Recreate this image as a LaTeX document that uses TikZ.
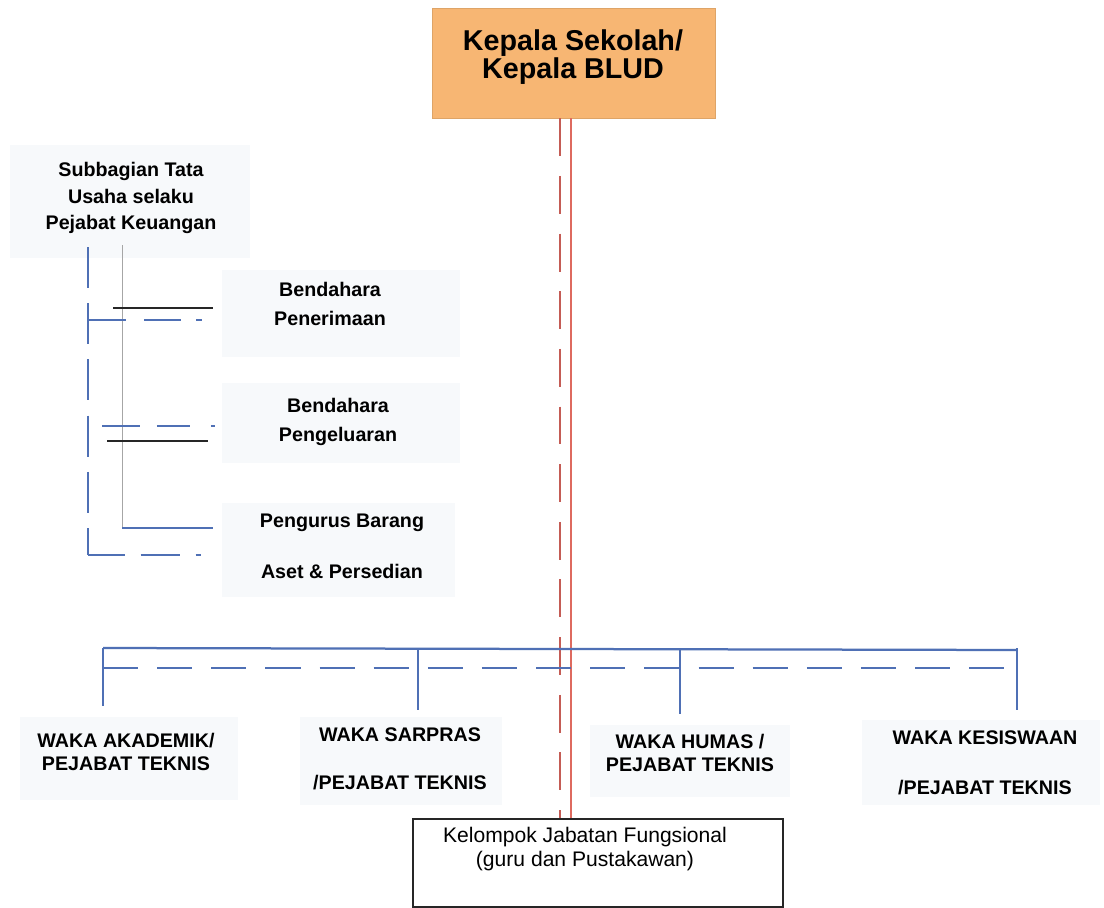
\documentclass[tikz,border=0pt]{standalone}
\usepackage{fontspec}
\setmainfont{Liberation Sans}
\usetikzlibrary{positioning}

\definecolor{kepalaorange}{HTML}{F7B673}
\definecolor{lineblue}{HTML}{4F70B5}
\definecolor{linered}{HTML}{DE6A5F}
\definecolor{dashred}{HTML}{C45C55}
\definecolor{faintbg}{HTML}{F7F9FB}

\tikzset{
  lbl/.style={font=\fontsize{14}{19}\selectfont\bfseries, align=center, inner sep=0pt},
  wakalbl/.style={font=\fontsize{14}{16.5}\selectfont\bfseries, align=center, inner sep=0pt},
  bgbox/.style={fill=faintbg, draw=none},
  blueline/.style={draw=lineblue, line width=1.6pt},
  bluedash/.style={blueline, dash pattern=on 25pt off 13.5pt},
  blackline/.style={draw=black!85, line width=1.2pt},
  thinline/.style={draw=black!35, line width=0.6pt},
}

\begin{document}
\begin{tikzpicture}[x=0.025cm, y=-0.025cm]
    \useasboundingbox[fill=white] (0,0) rectangle (1104,907);

    % faint backgrounds
    \fill[faintbg] (10,145) rectangle (250,258);
    \fill[faintbg] (222,270) rectangle (460,357);
    \fill[faintbg] (222,383) rectangle (460,463);
    \fill[faintbg] (222,503) rectangle (455,597);
    \fill[faintbg] (20,717) rectangle (238,800);
    \fill[faintbg] (300,717) rectangle (502,805);
    \fill[faintbg] (590,725) rectangle (790,797);
    \fill[faintbg] (862,720) rectangle (1100,805);

    % top and bottom boxes
    \node[fill=kepalaorange, draw=kepalaorange!90!black, line width=0.3pt,
          minimum width=7.075cm, minimum height=2.75cm, inner sep=0pt] (kepala) at (573.5,63) {};
    \node[font=\fontsize{20.4}{20.5}\selectfont\bfseries, align=center, inner sep=0pt]
          (kepalatext) at (573,57) {Kepala Sekolah/\\Kepala BLUD};
    \node[draw=black!85, line width=1.1pt, fill=white,
          minimum width=9.25cm, minimum height=2.2cm, inner sep=0pt] (kjf) at (598,863) {};
    \node[font=\fontsize{15}{17.5}\selectfont, align=center, inner sep=0pt]
          (kjftext) at (585,849) {Kelompok Jabatan Fungsional\\(guru dan Pustakawan)};

    % red lines
    \draw[draw=linered, line width=1.8pt] (571,0 |- kepala.south) -- (571,0 |- kjf.north);
    \draw[draw=dashred, line width=1.6pt, dash pattern=on 27pt off 14pt]
          (560,0 |- kepala.south) -- (560,0 |- kjf.north);

    % left labels
    \node[lbl, font=\fontsize{14}{18.9}\selectfont\bfseries] (subbag) at (131,198)
          {Subbagian Tata\\Usaha selaku\\Pejabat Keuangan};
    \node[lbl, font=\fontsize{14}{20}\selectfont\bfseries] (bpen) at (330,304) {Bendahara\\Penerimaan};
    \node[lbl, font=\fontsize{14}{20.5}\selectfont\bfseries] (bpeng) at (338,422) {Bendahara\\Pengeluaran};
    \node[lbl] (pbarang) at (342,523) {Pengurus Barang};
    \node[lbl] (aset) at (342,571) {Aset \& Persedian};

    % left bracket
    \coordinate (sbdash) at (88,247);
    \coordinate (sbthin) at (122,245);
    \draw[blueline, dash pattern=on 29pt off 11pt] (sbdash) -- (88,555);
    \draw[thinline] (sbthin) -- (122,528);
    \draw[blackline] (113,308) -- (213,308);
    \draw[blueline, dash pattern=on 27pt off 13pt on 26pt off 11pt on 4pt] (88,320) -- (204,320);
    \draw[blueline, dash pattern=on 27pt off 12pt on 23.5pt off 15pt on 3pt] (102,426) -- (215,426);
    \draw[blackline] (107,441) -- (208,441);
    \draw[blueline] (122,528) -- (213,528);
    \draw[blueline, dash pattern=on 26pt off 11.4pt on 27.7pt off 11.4pt on 4pt] (88,555) -- (204,555);

    % waka bus
    \coordinate (busL) at (103,648);
    \coordinate (busR) at (1017,650);
    \draw[blueline] (busL) -- (busR);
    \draw[bluedash] (103,668) -- (1005,668);
    \foreach \x/\y in {103/706, 418/710, 680/714, 1017/710}
    {
        \draw[blueline] (\x,648) -- (\x,\y);
    }

    % waka labels
    \node[wakalbl] (wakaak) at (126,752) {WAKA AKADEMIK/\\PEJABAT TEKNIS};
    \node[wakalbl] (wakasar) at (400,759) {WAKA SARPRAS\\[17.5pt]/PEJABAT TEKNIS};
    \node[wakalbl] (wakahum) at (690,753) {WAKA HUMAS /\\PEJABAT TEKNIS};
    \node[wakalbl] (wakakes) at (985,763) {WAKA KESISWAAN\\[19pt]/PEJABAT TEKNIS};

\end{tikzpicture}
\end{document}
